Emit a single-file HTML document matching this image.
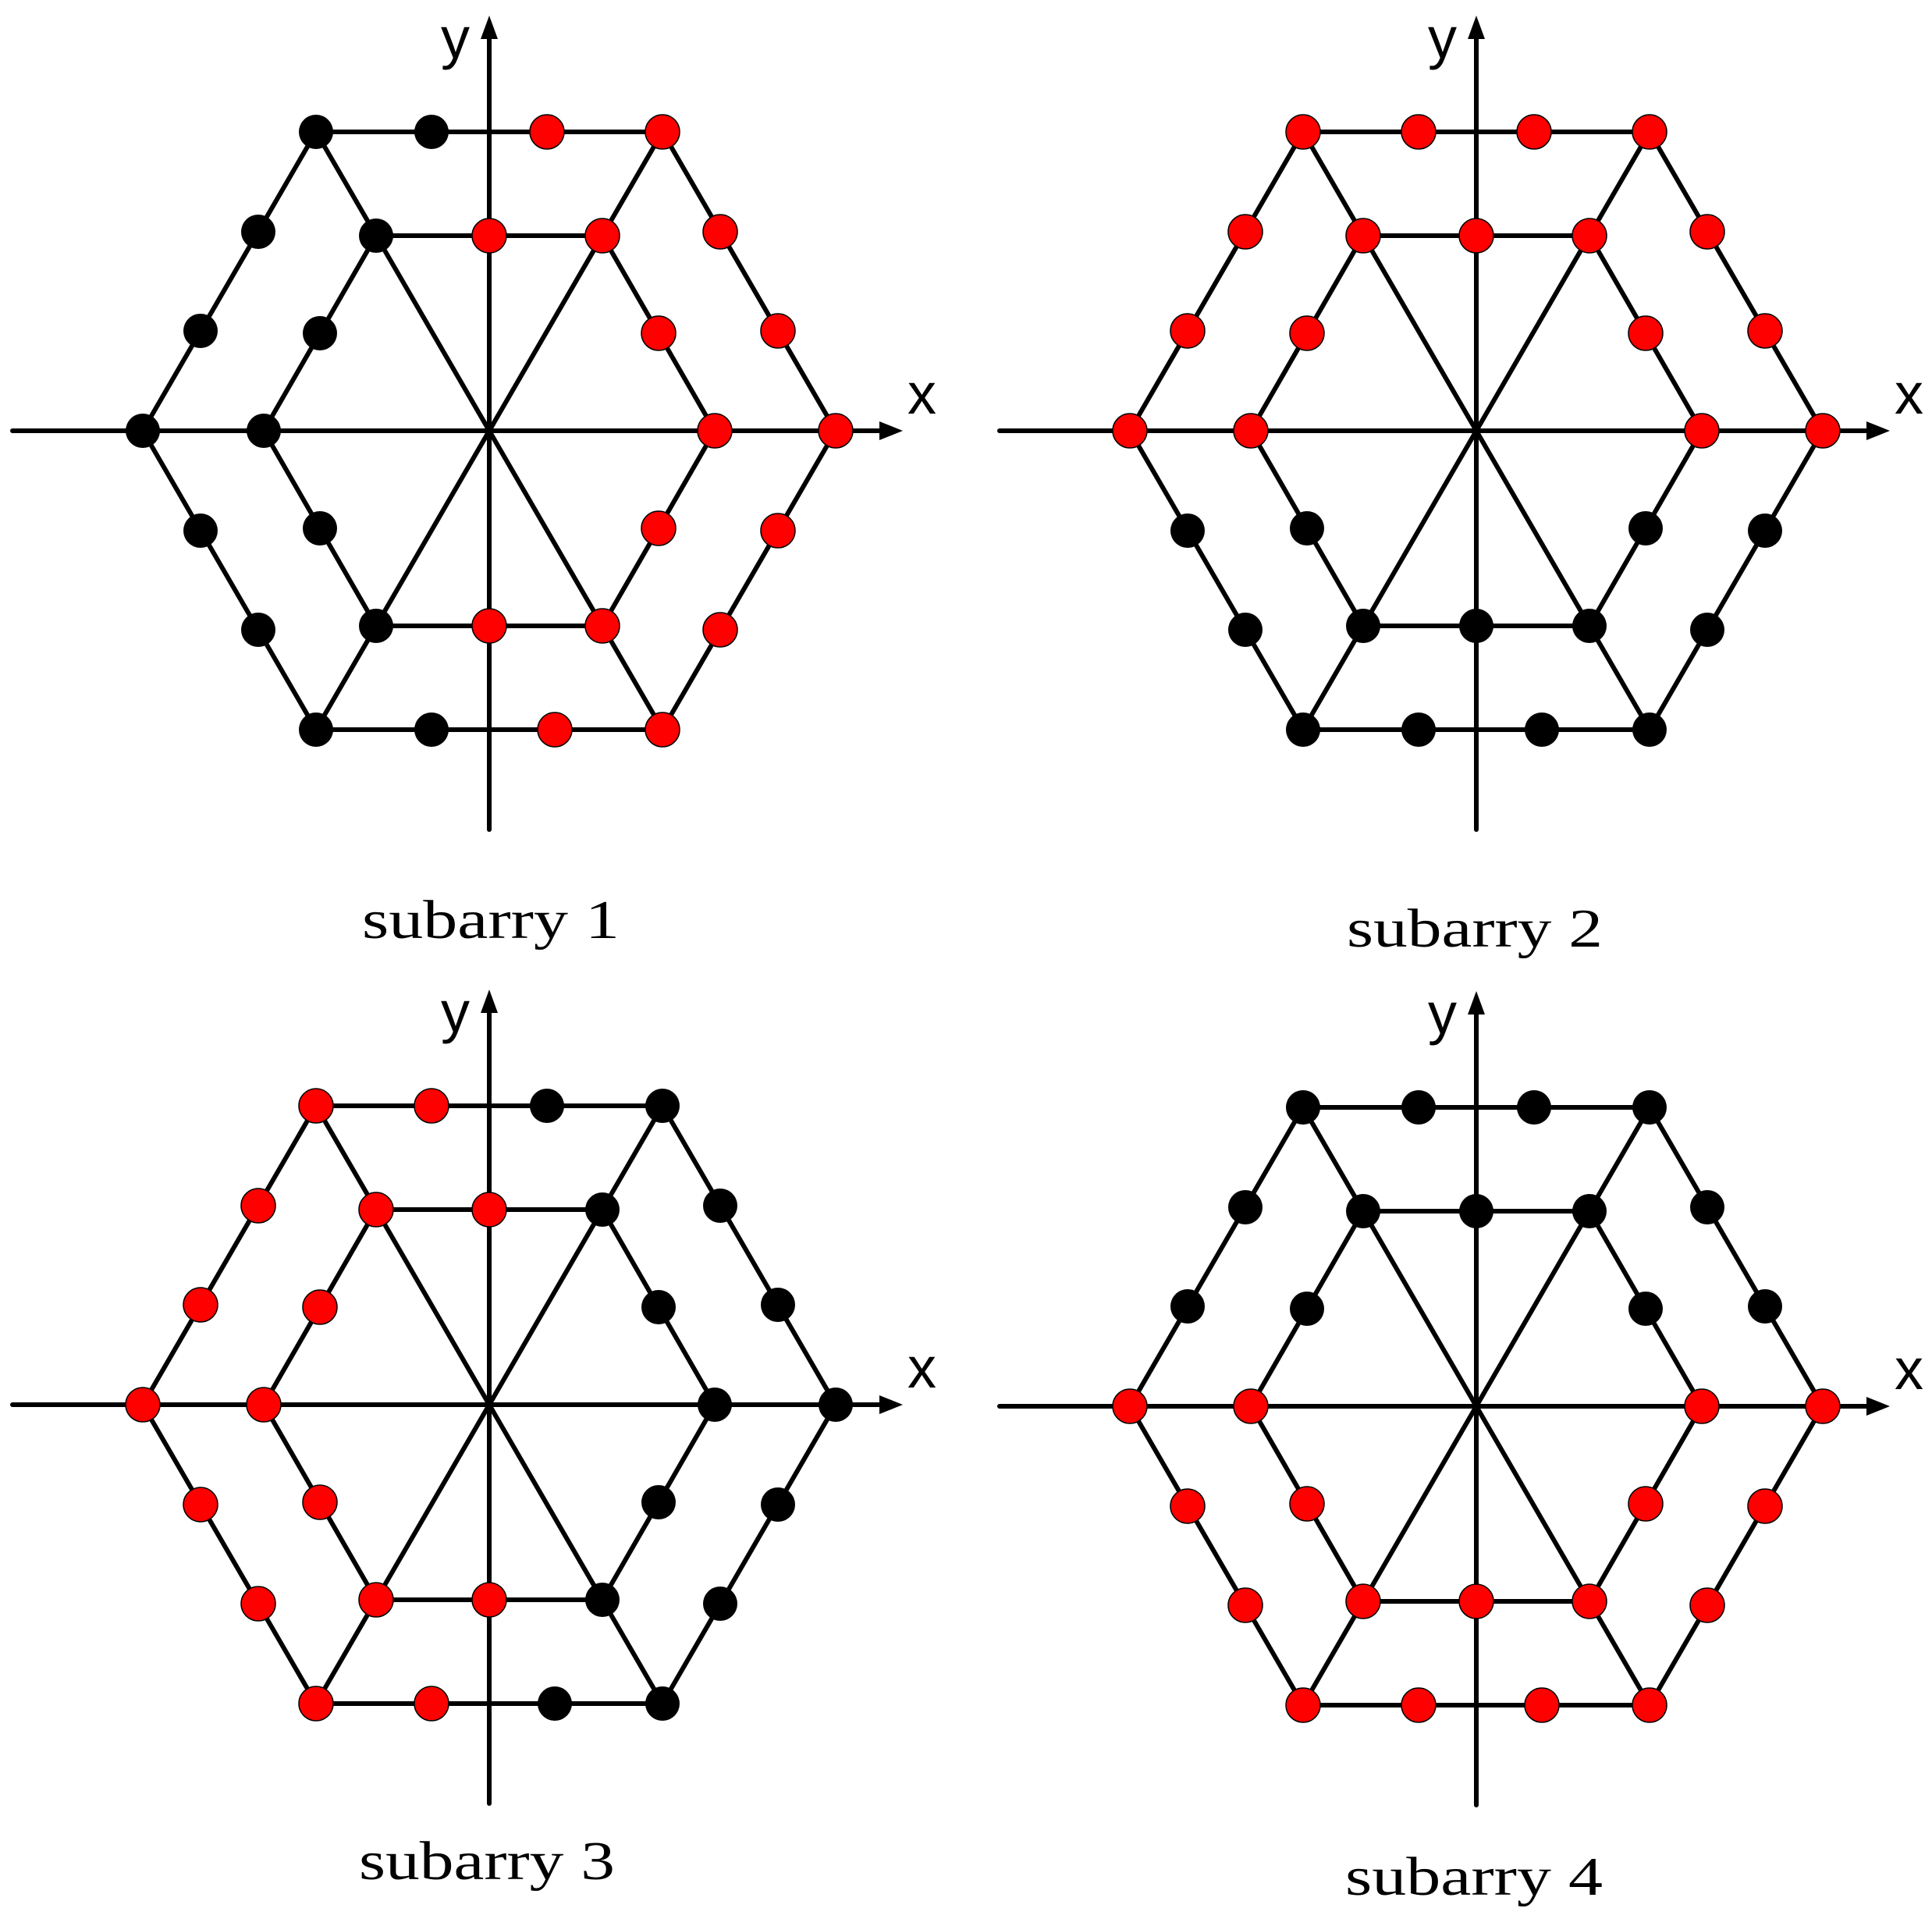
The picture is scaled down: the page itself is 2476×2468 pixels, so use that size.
<!DOCTYPE html>
<html><head><meta charset="utf-8"><style>html,body{margin:0;padding:0;background:#fff}svg{display:block}</style></head>
<body>
<svg width="2476" height="2468" viewBox="0 0 2476 2468" xmlns="http://www.w3.org/2000/svg">
<defs>
<g id="base" stroke="#000" stroke-width="6" fill="none" stroke-linecap="round">
<line x1="-611" y1="0" x2="515" y2="0"/>
<line x1="0" y1="511" x2="0" y2="-515"/>
<line x1="-222" y1="-383" x2="222" y2="383"/>
<line x1="222" y1="-383" x2="-222" y2="383"/>
<polygon points="444,0 222,-383 -222,-383 -444,0 -222,383 222,383" stroke-linejoin="miter"/>
<polygon points="289,0 145,-250 -145,-250 -289,0 -145,250 145,250" stroke-linejoin="miter"/>
<polygon points="530,0 500,-12 500,12" fill="#000" stroke="none"/>
<polygon points="0,-532 -11,-502 11,-502" fill="#000" stroke="none"/>
<text x="536" y="-22" style="font-family:'Liberation Sans',sans-serif;font-size:74px" fill="#000" stroke="none">x</text>
<text x="-62" y="-478" style="font-family:'Liberation Sans',sans-serif;font-size:74px" fill="#000" stroke="none">y</text>
</g>
<circle id="R" r="22" fill="#ff0000" stroke="#000" stroke-width="1.5"/>
<circle id="B" r="22" fill="#000"/>
</defs>
<style>.lbl{font-family:"Liberation Serif",serif;font-size:70px}</style>

<g transform="translate(627,552)">
<use href="#base"/>
<use href="#R" x="444" y="0"/><use href="#R" x="222" y="-383"/><use href="#R" x="74" y="-383"/><use href="#B" x="-74" y="-383"/><use href="#B" x="-222" y="-383"/>
<use href="#R" x="296" y="-255"/><use href="#R" x="370" y="-128"/><use href="#R" x="370" y="128"/><use href="#R" x="296" y="255"/><use href="#R" x="222" y="383"/>
<use href="#R" x="84" y="383"/><use href="#B" x="-74" y="383"/><use href="#B" x="-222" y="383"/><use href="#B" x="-296" y="255"/><use href="#B" x="-370" y="128"/>
<use href="#B" x="-444" y="0"/><use href="#B" x="-370" y="-128"/><use href="#B" x="-296" y="-255"/><use href="#R" x="289" y="0"/><use href="#R" x="145" y="-250"/>
<use href="#B" x="-145" y="-250"/><use href="#B" x="-289" y="0"/><use href="#B" x="-145" y="250"/><use href="#R" x="145" y="250"/><use href="#R" x="0" y="-250"/>
<use href="#R" x="217" y="-125"/><use href="#R" x="217" y="125"/><use href="#R" x="0" y="250"/><use href="#B" x="-217" y="125"/><use href="#B" x="-217" y="-125"/>
</g>
<text class="lbl" x="629" y="1202" text-anchor="middle" textLength="330" lengthAdjust="spacingAndGlyphs">subarry 1</text>

<g transform="translate(1892,552)">
<use href="#base"/>
<use href="#R" x="444" y="0"/><use href="#R" x="222" y="-383"/><use href="#R" x="74" y="-383"/><use href="#R" x="-74" y="-383"/><use href="#R" x="-222" y="-383"/>
<use href="#R" x="296" y="-255"/><use href="#R" x="370" y="-128"/><use href="#B" x="370" y="128"/><use href="#B" x="296" y="255"/><use href="#B" x="222" y="383"/>
<use href="#B" x="84" y="383"/><use href="#B" x="-74" y="383"/><use href="#B" x="-222" y="383"/><use href="#B" x="-296" y="255"/><use href="#B" x="-370" y="128"/>
<use href="#R" x="-444" y="0"/><use href="#R" x="-370" y="-128"/><use href="#R" x="-296" y="-255"/><use href="#R" x="289" y="0"/><use href="#R" x="145" y="-250"/>
<use href="#R" x="-145" y="-250"/><use href="#R" x="-289" y="0"/><use href="#B" x="-145" y="250"/><use href="#B" x="145" y="250"/><use href="#R" x="0" y="-250"/>
<use href="#R" x="217" y="-125"/><use href="#B" x="217" y="125"/><use href="#B" x="0" y="250"/><use href="#B" x="-217" y="125"/><use href="#R" x="-217" y="-125"/>
</g>
<text class="lbl" x="1890" y="1213" text-anchor="middle" textLength="328" lengthAdjust="spacingAndGlyphs">subarry 2</text>

<g transform="translate(627,1800)">
<use href="#base"/>
<use href="#B" x="444" y="0"/><use href="#B" x="222" y="-383"/><use href="#B" x="74" y="-383"/><use href="#R" x="-74" y="-383"/><use href="#R" x="-222" y="-383"/>
<use href="#B" x="296" y="-255"/><use href="#B" x="370" y="-128"/><use href="#B" x="370" y="128"/><use href="#B" x="296" y="255"/><use href="#B" x="222" y="383"/>
<use href="#B" x="84" y="383"/><use href="#R" x="-74" y="383"/><use href="#R" x="-222" y="383"/><use href="#R" x="-296" y="255"/><use href="#R" x="-370" y="128"/>
<use href="#R" x="-444" y="0"/><use href="#R" x="-370" y="-128"/><use href="#R" x="-296" y="-255"/><use href="#B" x="289" y="0"/><use href="#B" x="145" y="-250"/>
<use href="#R" x="-145" y="-250"/><use href="#R" x="-289" y="0"/><use href="#R" x="-145" y="250"/><use href="#B" x="145" y="250"/><use href="#R" x="0" y="-250"/>
<use href="#B" x="217" y="-125"/><use href="#B" x="217" y="125"/><use href="#R" x="0" y="250"/><use href="#R" x="-217" y="125"/><use href="#R" x="-217" y="-125"/>
</g>
<text class="lbl" x="624" y="2408" text-anchor="middle" textLength="328" lengthAdjust="spacingAndGlyphs">subarry 3</text>

<g transform="translate(1892,1802)">
<use href="#base"/>
<use href="#R" x="444" y="0"/><use href="#B" x="222" y="-383"/><use href="#B" x="74" y="-383"/><use href="#B" x="-74" y="-383"/><use href="#B" x="-222" y="-383"/>
<use href="#B" x="296" y="-255"/><use href="#B" x="370" y="-128"/><use href="#R" x="370" y="128"/><use href="#R" x="296" y="255"/><use href="#R" x="222" y="383"/>
<use href="#R" x="84" y="383"/><use href="#R" x="-74" y="383"/><use href="#R" x="-222" y="383"/><use href="#R" x="-296" y="255"/><use href="#R" x="-370" y="128"/>
<use href="#R" x="-444" y="0"/><use href="#B" x="-370" y="-128"/><use href="#B" x="-296" y="-255"/><use href="#R" x="289" y="0"/><use href="#B" x="145" y="-250"/>
<use href="#B" x="-145" y="-250"/><use href="#R" x="-289" y="0"/><use href="#R" x="-145" y="250"/><use href="#R" x="145" y="250"/><use href="#B" x="0" y="-250"/>
<use href="#B" x="217" y="-125"/><use href="#R" x="217" y="125"/><use href="#R" x="0" y="250"/><use href="#R" x="-217" y="125"/><use href="#B" x="-217" y="-125"/>
</g>
<text class="lbl" x="1889" y="2428" text-anchor="middle" textLength="330" lengthAdjust="spacingAndGlyphs">subarry 4</text>
</svg>
</body></html>
